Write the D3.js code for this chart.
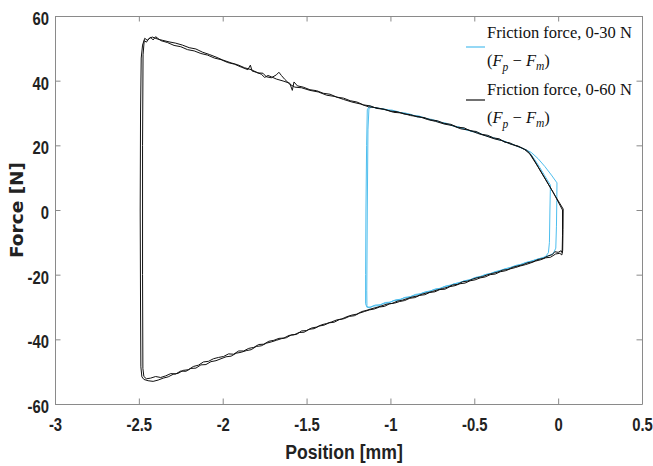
<!DOCTYPE html>
<html>
<head>
<meta charset="utf-8">
<script src="https://cdn.jsdelivr.net/npm/d3@7"></script>
<style>
  body { margin: 0; background: #fff; }
  svg { display: block; }
  .tick text { font-family: "Liberation Sans", Arial, sans-serif; font-weight: bold; font-size: 18.5px; fill: #222; }
  .legend text { font-family: "Liberation Serif", "DejaVu Serif", serif; font-size: 16.5px; fill: #111; }
</style>
</head>
<body>
<div id="chart"></div>
<script>
// axis ticks
const xTicks = [-3, -2.5, -2, -1.5, -1, -0.5, 0, 0.5];
const yTicks = [-60, -40, -20, 0, 20, 40, 60];
const legendLabels = ["Friction force, 0-30 N", "Friction force, 0-60 N"];

// 0-30 N run, two cycles (position mm, force N)
const blueRun1 = [
  [-0.046, 7.7], [-0.080, 10.6], [-0.110, 13.2], [-0.140, 15.6], [-0.165, 17.4], [-0.190, 18.5], [-0.230, 19.4],
  [-0.270, 20.3], [-0.310, 20.9], [-0.350, 21.8], [-0.390, 22.3], [-0.430, 23.0], [-0.470, 23.6], [-0.510, 24.4],
  [-0.550, 24.8], [-0.590, 25.7], [-0.630, 26.0], [-0.670, 26.9], [-0.710, 27.2], [-0.750, 28.0], [-0.790, 28.3],
  [-0.830, 29.1], [-0.870, 29.3], [-0.910, 30.0], [-0.950, 30.2], [-0.990, 30.9], [-1.030, 31.0], [-1.070, 31.5],
  [-1.100, 31.7], [-1.125, 32.2], [-1.138, 31.0], [-1.142, 20.0], [-1.146, 0.0], [-1.148, -20.0], [-1.148, -29.0],
  [-1.140, -30.1], [-1.120, -30.0], [-1.090, -29.4], [-1.060, -29.3], [-1.030, -28.6], [-1.000, -28.5], [-0.970, -27.8],
  [-0.940, -27.6], [-0.910, -27.0], [-0.880, -26.8], [-0.850, -26.1], [-0.820, -25.9], [-0.790, -25.3], [-0.760, -25.0],
  [-0.730, -24.4], [-0.700, -24.2], [-0.670, -23.5], [-0.640, -23.2], [-0.610, -22.7], [-0.580, -22.3], [-0.550, -21.8],
  [-0.520, -21.5], [-0.490, -20.8], [-0.460, -20.5], [-0.430, -19.9], [-0.400, -19.6], [-0.370, -19.0], [-0.340, -18.6],
  [-0.310, -18.1], [-0.280, -17.7], [-0.250, -17.1], [-0.220, -16.8], [-0.190, -16.2], [-0.160, -15.8], [-0.130, -15.3],
  [-0.100, -14.9], [-0.075, -14.4], [-0.058, -13.2], [-0.052, -10.0], [-0.049, 0.0], [-0.046, 7.7]
];
const blueRun2 = [
  [-0.007, 8.4], [-0.040, 10.8], [-0.080, 13.5], [-0.120, 15.9], [-0.160, 17.8], [-0.200, 18.8], [-0.240, 19.7],
  [-0.280, 20.4], [-0.320, 21.3], [-0.360, 21.8], [-0.400, 22.6], [-0.440, 23.1], [-0.480, 24.0], [-0.520, 24.3],
  [-0.560, 25.2], [-0.600, 25.5], [-0.640, 26.4], [-0.680, 26.7], [-0.720, 27.5], [-0.760, 27.8], [-0.800, 28.6],
  [-0.840, 28.8], [-0.880, 29.6], [-0.920, 29.8], [-0.960, 30.5], [-1.000, 30.7], [-1.040, 31.3], [-1.080, 31.4],
  [-1.110, 31.9], [-1.128, 31.4], [-1.134, 25.0], [-1.138, 0.0], [-1.141, -25.0], [-1.140, -29.6], [-1.128, -30.3],
  [-1.100, -29.7], [-1.070, -29.6], [-1.040, -28.9], [-1.010, -28.7], [-0.980, -28.0], [-0.950, -27.9], [-0.920, -27.2],
  [-0.890, -27.0], [-0.860, -26.4], [-0.830, -26.1], [-0.800, -25.5], [-0.770, -25.3], [-0.740, -24.6], [-0.710, -24.4],
  [-0.680, -23.7], [-0.650, -23.5], [-0.620, -22.8], [-0.590, -22.6], [-0.560, -21.9], [-0.530, -21.7], [-0.500, -21.0],
  [-0.470, -20.8], [-0.440, -20.1], [-0.410, -19.8], [-0.380, -19.2], [-0.350, -18.9], [-0.320, -18.3], [-0.290, -17.9],
  [-0.260, -17.4], [-0.230, -17.0], [-0.200, -16.4], [-0.170, -16.0], [-0.140, -15.5], [-0.110, -15.0], [-0.080, -14.6],
  [-0.050, -14.0], [-0.028, -13.4], [-0.014, -11.8], [-0.010, -5.0], [-0.008, 3.0], [-0.007, 8.4]
];

// 0-60 N run, two cycles
const blackRun1 = [
  [0.030, 0.3], [-0.020, 4.6], [-0.070, 9.0], [-0.120, 13.4], [-0.160, 16.9], [-0.185, 18.4], [-0.220, 19.3],
  [-0.255, 19.9], [-0.290, 20.8], [-0.320, 21.0], [-0.350, 22.0], [-0.385, 22.3], [-0.420, 23.1], [-0.455, 23.4],
  [-0.490, 24.3], [-0.525, 24.5], [-0.560, 25.4], [-0.600, 25.6], [-0.640, 26.5], [-0.680, 26.8], [-0.720, 27.6],
  [-0.760, 27.9], [-0.800, 28.6], [-0.840, 28.8], [-0.880, 29.5], [-0.920, 29.7], [-0.960, 30.4], [-1.000, 30.6],
  [-1.040, 31.2], [-1.080, 31.4], [-1.120, 32.2], [-1.160, 32.5], [-1.200, 33.4], [-1.240, 33.8], [-1.280, 34.6],
  [-1.320, 34.9], [-1.360, 35.8], [-1.400, 36.1], [-1.440, 36.9], [-1.480, 37.2], [-1.520, 38.0], [-1.555, 38.4],
  [-1.575, 39.6], [-1.585, 37.0], [-1.600, 39.2], [-1.640, 39.9], [-1.680, 40.5], [-1.710, 41.2], [-1.730, 41.6],
  [-1.750, 41.0], [-1.770, 42.0], [-1.800, 42.6], [-1.825, 43.0], [-1.835, 44.8], [-1.850, 43.4], [-1.890, 44.2],
  [-1.930, 45.1], [-1.970, 45.6], [-2.010, 46.5], [-2.050, 47.0], [-2.090, 47.9], [-2.130, 48.4], [-2.170, 49.2],
  [-2.210, 49.6], [-2.250, 50.5], [-2.290, 50.9], [-2.330, 51.8], [-2.370, 52.4], [-2.400, 53.6], [-2.415, 52.6],
  [-2.430, 53.4], [-2.450, 52.5], [-2.465, 53.1], [-2.478, 51.0], [-2.486, 47.0], [-2.490, 30.0], [-2.492, 0.0],
  [-2.490, -30.0], [-2.488, -48.5], [-2.482, -51.6], [-2.470, -52.4], [-2.445, -52.8], [-2.415, -53.0], [-2.385, -52.6],
  [-2.355, -52.0], [-2.325, -51.6], [-2.295, -50.8], [-2.265, -50.5], [-2.235, -49.6], [-2.205, -49.4], [-2.175, -48.4],
  [-2.145, -48.0], [-2.115, -47.0], [-2.085, -46.8], [-2.055, -46.0], [-2.025, -45.6], [-1.995, -45.3], [-1.965, -44.5],
  [-1.935, -44.6], [-1.905, -43.6], [-1.875, -43.6], [-1.845, -42.8], [-1.815, -42.5], [-1.785, -41.6], [-1.755, -41.5],
  [-1.725, -40.6], [-1.695, -40.3], [-1.665, -39.7], [-1.635, -39.6], [-1.605, -38.8], [-1.575, -38.6], [-1.545, -37.9],
  [-1.515, -37.8], [-1.485, -36.9], [-1.455, -36.7], [-1.425, -35.9], [-1.395, -35.6], [-1.365, -34.9], [-1.335, -34.7],
  [-1.305, -33.9], [-1.275, -33.6], [-1.245, -32.9], [-1.215, -32.7], [-1.185, -31.9], [-1.155, -31.4], [-1.125, -30.9],
  [-1.095, -30.6], [-1.065, -30.0], [-1.035, -29.8], [-1.005, -29.0], [-0.975, -28.8], [-0.945, -28.3], [-0.915, -28.0],
  [-0.885, -27.3], [-0.855, -27.1], [-0.825, -26.4], [-0.795, -26.2], [-0.765, -25.5], [-0.735, -25.3], [-0.705, -24.6],
  [-0.675, -24.5], [-0.645, -23.7], [-0.615, -23.4], [-0.585, -22.8], [-0.555, -22.6], [-0.525, -21.9], [-0.495, -21.6],
  [-0.465, -21.0], [-0.435, -20.7], [-0.405, -20.0], [-0.375, -19.8], [-0.345, -19.1], [-0.315, -18.8], [-0.285, -18.2],
  [-0.255, -17.8], [-0.225, -17.3], [-0.195, -16.9], [-0.165, -16.4], [-0.135, -15.8], [-0.105, -15.4], [-0.075, -14.8],
  [-0.045, -14.6], [-0.015, -13.6], [0.010, -13.4], [0.022, -13.9], [0.027, -12.5], [0.029, -6.0], [0.030, 0.3]
];
const blackRun2 = [
  [0.026, 0.0], [-0.030, 5.5], [-0.080, 9.9], [-0.130, 14.2], [-0.170, 17.4], [-0.200, 18.7], [-0.240, 19.8],
  [-0.280, 20.3], [-0.330, 21.4], [-0.380, 22.0], [-0.430, 22.9], [-0.480, 23.7], [-0.530, 24.7], [-0.580, 25.1],
  [-0.630, 26.1], [-0.680, 26.6], [-0.730, 27.4], [-0.780, 28.0], [-0.830, 28.9], [-0.880, 29.2], [-0.930, 30.0],
  [-0.980, 30.2], [-1.030, 31.0], [-1.080, 31.6], [-1.130, 31.9], [-1.180, 32.8], [-1.230, 33.4], [-1.280, 34.2],
  [-1.330, 35.1], [-1.380, 35.5], [-1.430, 36.5], [-1.480, 37.0], [-1.530, 37.8], [-1.570, 38.0], [-1.600, 38.9],
  [-1.630, 40.4], [-1.650, 41.6], [-1.665, 42.6], [-1.680, 41.8], [-1.710, 40.9], [-1.740, 41.2], [-1.760, 42.3],
  [-1.790, 42.4], [-1.830, 43.4], [-1.870, 44.0], [-1.910, 44.9], [-1.950, 45.5], [-2.000, 46.4], [-2.040, 47.3],
  [-2.080, 48.1], [-2.120, 48.8], [-2.160, 49.8], [-2.200, 50.2], [-2.240, 51.0], [-2.280, 51.6], [-2.320, 52.0],
  [-2.360, 52.5], [-2.390, 52.9], [-2.420, 53.5], [-2.440, 53.0], [-2.455, 51.9], [-2.468, 52.4], [-2.475, 48.0],
  [-2.478, 20.0], [-2.478, -20.0], [-2.476, -49.0], [-2.470, -51.5], [-2.455, -52.2], [-2.430, -52.0], [-2.400, -51.5],
  [-2.370, -51.8], [-2.340, -51.3], [-2.310, -50.6], [-2.280, -50.7], [-2.250, -49.8], [-2.220, -49.9], [-2.190, -49.0],
  [-2.160, -48.9], [-2.130, -47.9], [-2.100, -47.8], [-2.070, -46.9], [-2.040, -46.6], [-2.010, -46.0], [-1.980, -45.4],
  [-1.950, -45.2], [-1.920, -44.3], [-1.890, -44.0], [-1.860, -43.5], [-1.830, -43.2], [-1.800, -42.2], [-1.770, -42.0],
  [-1.740, -41.2], [-1.710, -40.8], [-1.680, -40.3], [-1.650, -39.8], [-1.620, -39.5], [-1.590, -38.6], [-1.560, -38.5],
  [-1.530, -37.4], [-1.500, -37.3], [-1.470, -36.5], [-1.440, -36.2], [-1.410, -35.5], [-1.380, -35.1], [-1.350, -34.6],
  [-1.320, -34.0], [-1.290, -33.7], [-1.260, -33.0], [-1.230, -32.5], [-1.200, -32.2], [-1.170, -31.4], [-1.140, -31.0],
  [-1.110, -30.5], [-1.080, -30.1], [-1.050, -29.6], [-1.020, -29.1], [-0.990, -28.9], [-0.960, -28.2], [-0.930, -27.9],
  [-0.900, -27.4], [-0.870, -26.9], [-0.840, -26.6], [-0.810, -26.0], [-0.780, -25.6], [-0.750, -25.2], [-0.720, -24.7],
  [-0.690, -24.3], [-0.660, -23.9], [-0.630, -23.2], [-0.600, -23.0], [-0.570, -22.2], [-0.540, -22.0], [-0.510, -21.4],
  [-0.480, -20.9], [-0.450, -20.6], [-0.420, -20.0], [-0.390, -19.6], [-0.360, -19.2], [-0.330, -18.6], [-0.300, -18.4],
  [-0.270, -17.7], [-0.240, -17.3], [-0.210, -16.9], [-0.180, -16.3], [-0.150, -16.0], [-0.120, -15.3], [-0.090, -15.0],
  [-0.060, -14.2], [-0.035, -13.8], [-0.020, -12.9], [0.000, -13.1], [0.018, -12.6], [0.024, -13.2], [0.026, -8.0],
  [0.026, 0.0]
];

const blue = "#4DBEEE";
const black = "#111";

const width = 653, height = 466;
const margin = { left: 55, right: 11, top: 16, bottom: 62 };
const squeeze = 0.8; // narrow bold look of the tick labels

const svg = d3.select("#chart").append("svg")
  .attr("width", width)
  .attr("height", height);

const x = d3.scaleLinear().domain([-3, 0.5]).range([margin.left, width - margin.right]);
const y = d3.scaleLinear().domain([-60, 60]).range([height - margin.bottom, margin.top]);

const fmt = (d) => String(d);

// axes, ticks pointing inward on all four sides
function styleAxis(g) {
  g.select(".domain").attr("stroke", "#8a8a8a");
  g.selectAll(".tick line").attr("stroke", "#8a8a8a");
}

svg.append("g")
  .attr("transform", `translate(0,${y(-60)})`)
  .call(d3.axisBottom(x).tickValues(xTicks).tickFormat(fmt).tickSize(-5.5).tickSizeOuter(0).tickPadding(14))
  .call(styleAxis)
  .call((g) => g.selectAll(".tick text").attr("transform", `scale(${squeeze},1)`));

svg.append("g")
  .attr("transform", `translate(0,${y(60)})`)
  .call(d3.axisTop(x).tickValues(xTicks).tickFormat("").tickSize(-5.5).tickSizeOuter(0))
  .call(styleAxis);

svg.append("g")
  .attr("transform", `translate(${x(-3)},0)`)
  .call(d3.axisLeft(y).tickValues(yTicks).tickFormat(fmt).tickSize(-5.5).tickSizeOuter(0).tickPadding(6))
  .call(styleAxis)
  .call((g) => g.selectAll(".tick text")
    .attr("x", -6 / squeeze)
    .attr("dy", "0.45em")
    .attr("transform", `scale(${squeeze},1)`));

svg.append("g")
  .attr("transform", `translate(${x(0.5)},0)`)
  .call(d3.axisRight(y).tickValues(yTicks).tickFormat("").tickSize(-5.5).tickSizeOuter(0))
  .call(styleAxis);

// axis titles
svg.append("text")
  .attr("transform", `translate(344,459) scale(0.84,1)`)
  .attr("text-anchor", "middle")
  .style("font-family", "'Liberation Sans', Arial, sans-serif")
  .style("font-weight", "bold")
  .style("font-size", "21px")
  .attr("fill", "#222")
  .text("Position [mm]");

svg.append("text")
  .attr("transform", `translate(23,${(y(60) + y(-60)) / 2}) rotate(-90)`)
  .attr("text-anchor", "middle")
  .style("font-family", "'DejaVu Sans', sans-serif")
  .style("font-weight", "bold")
  .style("font-size", "18.5px")
  .attr("fill", "#222")
  .text("Force [N]");

// curves
const line = d3.line().x((d) => x(d[0])).y((d) => y(d[1]));

const runs = [
  { data: blueRun1, color: blue },
  { data: blueRun2, color: blue },
  { data: blackRun1, color: black },
  { data: blackRun2, color: black }
];

svg.append("g").selectAll("path")
  .data(runs)
  .enter().append("path")
  .attr("d", (d) => line(d.data))
  .attr("fill", "none")
  .attr("stroke", (d) => d.color)
  .attr("stroke-width", 1)
  .attr("stroke-linejoin", "round");

// legend (no box), two-line entries
const legend = svg.append("g").attr("class", "legend");
const legendColors = [blue, black];

legendLabels.forEach((label, i) => {
  const top = 38 + i * 57;
  legend.append("line")
    .attr("x1", 466).attr("x2", 485)
    .attr("y1", 47 + i * 53).attr("y2", 47 + i * 53)
    .attr("stroke", legendColors[i])
    .attr("stroke-width", 1.2);

  legend.append("text")
    .attr("x", 487).attr("y", top)
    .text(label);

  const t = legend.append("text").attr("x", 487).attr("y", top + 28);
  t.append("tspan").text("(");
  t.append("tspan").style("font-style", "italic").text("F");
  t.append("tspan").style("font-style", "italic").style("font-size", "11.5px").attr("dy", 5).text("p");
  t.append("tspan").attr("dy", -5).text(" \u2212 ");
  t.append("tspan").style("font-style", "italic").text("F");
  t.append("tspan").style("font-style", "italic").style("font-size", "11.5px").attr("dy", 4).text("m");
  t.append("tspan").attr("dy", -4).text(")");
});
</script>
</body>
</html>
